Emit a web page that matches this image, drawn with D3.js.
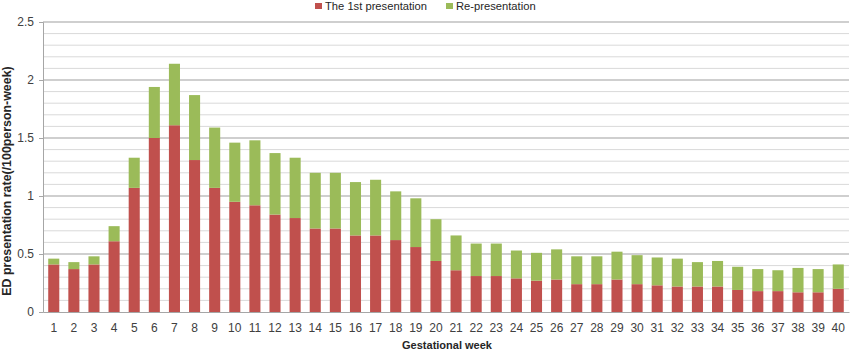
<!DOCTYPE html>
<html>
<head>
<meta charset="utf-8">
<script src="https://cdn.jsdelivr.net/npm/d3@7"></script>
<style>
  body { margin: 0; background: #fff; }
  svg { display: block; font-family: "Liberation Sans", Arial, sans-serif; }
</style>
</head>
<body>
<div id="chart"></div>
<script>
var weeks = d3.range(1, 41).map(String);
var firstPresentation = [0.41, 0.37, 0.41, 0.61, 1.07, 1.50, 1.61, 1.31, 1.07, 0.95,
                         0.92, 0.84, 0.81, 0.72, 0.72, 0.66, 0.66, 0.62, 0.56, 0.44,
                         0.36, 0.31, 0.31, 0.29, 0.27, 0.28, 0.24, 0.24, 0.28, 0.24,
                         0.23, 0.22, 0.22, 0.22, 0.19, 0.18, 0.18, 0.17, 0.17, 0.20];
var rePresentation = [0.05, 0.06, 0.07, 0.13, 0.26, 0.44, 0.53, 0.56, 0.52, 0.51,
                      0.56, 0.53, 0.52, 0.48, 0.48, 0.46, 0.48, 0.42, 0.42, 0.36,
                      0.30, 0.28, 0.28, 0.24, 0.24, 0.26, 0.24, 0.24, 0.24, 0.25,
                      0.24, 0.24, 0.21, 0.22, 0.20, 0.19, 0.18, 0.21, 0.20, 0.21];
var seriesNames = ["The 1st presentation", "Re-presentation"];
var yTicks = [0, 0.5, 1, 1.5, 2, 2.5];

function init() {
    var w = 850, h = 350;
    var margin = { top: 22, right: 1, bottom: 38, left: 43 };

    var svg = d3.select("#chart").append("svg")
        .attr("width", w)
        .attr("height", h);

    var dataset = weeks.map(function (wk, i) {
        return { week: wk, first: firstPresentation[i], re: rePresentation[i] };
    });
    var series = d3.stack().keys(["first", "re"])(dataset);
    var color = d3.scaleOrdinal().domain(["first", "re"]).range(["#C0504D", "#9BBB59"]);

    var x = d3.scaleBand()
        .domain(weeks)
        .range([margin.left, w - margin.right])
        .paddingInner(0.45)
        .paddingOuter(0.26);

    var y = d3.scaleLinear()
        .domain([0, 2.5])
        .range([h - margin.bottom, margin.top]);

    // gridlines: minor every 0.1, major every 0.5
    var minor = d3.range(1, 25).map(function (d) { return d / 10; }).filter(function (d) { return Math.round(d * 10) % 5 !== 0; });
    svg.append("g").selectAll("line")
        .data(minor)
        .enter().append("line")
        .attr("x1", margin.left).attr("x2", w - margin.right)
        .attr("y1", function (d) { return y(d); }).attr("y2", function (d) { return y(d); })
        .attr("stroke", "#d9d9d9").attr("stroke-width", 1);
    svg.append("g").selectAll("line")
        .data(yTicks.slice(1))
        .enter().append("line")
        .attr("x1", margin.left).attr("x2", w - margin.right)
        .attr("y1", function (d) { return y(d); }).attr("y2", function (d) { return y(d); })
        .attr("stroke", "#bfbfbf").attr("stroke-width", 1.5);

    // bars
    svg.append("g").selectAll("g")
        .data(series)
        .enter().append("g")
        .attr("fill", function (d) { return color(d.key); })
        .selectAll("rect")
        .data(function (d) { return d; })
        .enter().append("rect")
        .attr("x", function (d) { return x(d.data.week); })
        .attr("y", function (d) { return y(d[1]); })
        .attr("height", function (d) { return y(d[0]) - y(d[1]); })
        .attr("width", x.bandwidth());

    // axes
    var yAxis = svg.append("g")
        .attr("transform", "translate(" + margin.left + ",0)")
        .call(d3.axisLeft(y).tickValues(yTicks).tickSize(4).tickPadding(5).tickFormat(function (d) { return String(d); }));
    yAxis.select(".domain").attr("stroke", "#a6a6a6");
    yAxis.selectAll(".tick line").attr("stroke", "#a6a6a6");
    yAxis.selectAll("text").attr("fill", "#404040").style("font-size", "12px");

    var xAxis = svg.append("g")
        .attr("transform", "translate(0," + (h - margin.bottom) + ")")
        .call(d3.axisBottom(x).tickSize(0).tickPadding(11));
    xAxis.select(".domain").attr("stroke", "#a6a6a6");
    xAxis.selectAll("text").attr("fill", "#404040").style("font-size", "12px");

    // axis titles
    svg.append("text")
        .attr("x", 447)
        .attr("y", 349)
        .attr("text-anchor", "middle")
        .style("font-size", "11px")
        .style("font-weight", "bold")
        .attr("fill", "#262626")
        .text("Gestational week");

    svg.append("text")
        .attr("transform", "translate(11,181) rotate(-90)")
        .attr("text-anchor", "middle")
        .style("font-size", "12.4px")
        .style("font-weight", "bold")
        .attr("fill", "#262626")
        .text("ED presentation rate(/100person-week)");

    // legend
    var legendX = [315, 446];
    var legend = svg.append("g").selectAll("g")
        .data(seriesNames)
        .enter().append("g")
        .attr("transform", function (d, i) { return "translate(" + legendX[i] + ",0)"; });
    legend.append("rect")
        .attr("width", 7).attr("height", 6).attr("y", 3)
        .attr("fill", function (d, i) { return color.range()[i]; });
    legend.append("text")
        .attr("x", 10).attr("y", 10)
        .style("font-size", "11.2px")
        .attr("fill", "#262626")
        .text(function (d) { return d; });
}

window.onload = init;
</script>
</body>
</html>
